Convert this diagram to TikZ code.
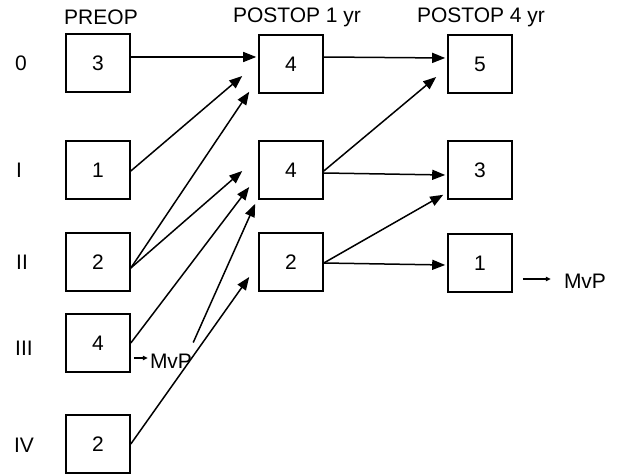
\documentclass[tikz,border=0pt]{standalone}
\usepackage{fontspec}
\setmainfont{Liberation Sans}
\usetikzlibrary{arrows.meta}
\begin{document}
\begin{tikzpicture}[x=1pt,y=-1pt,
  every node/.style={font=\fontsize{21}{25}\selectfont, inner sep=0pt},
  cell/.style={draw, line width=1.6pt, minimum width=64pt, minimum height=58pt},
  link/.style={line width=1.5pt, -{Triangle[length=13pt,width=10pt]}},
  small/.style={line width=1.3pt, -{Triangle[length=5pt,width=4.5pt]}}]
\useasboundingbox (0,0) rectangle (619,476);
% headers
\node (h1) at (101,17) {PREOP};
\node (h2) at (297,17) {POSTOP 1 yr};
\node (h3) at (481,17) {POSTOP 4 yr};
% row labels
\node (r0) at (21,63) {0};
\node (r1) at (19,170) {I};
\node (r2) at (22,262) {II};
\node (r3) at (24,348) {III};
\node (r4) at (24,445) {IV};
% boxes
\node[cell] (P0) at (98,63) {3};
\node[cell] (P1) at (98,170) {1};
\node[cell] (P2) at (98,262) {2};
\node[cell] (P3) at (98,343) {4};
\node[cell] (P4) at (98,444) {2};
\node[cell] (Q0) at (291,64) {4};
\node[cell] (Q1) at (291,170) {4};
\node[cell] (Q2) at (291,262) {2};
\node[cell] (R0) at (480,64) {5};
\node[cell] (R1) at (480,170) {3};
\node[cell] (R2) at (480,263) {1};
% MvP labels
\node (mvp1) at (171,361) {MvP};
\node (mvp2) at (585,281) {MvP};
% connectors column 1 -> 2
\draw[link] ([yshift=6pt]P0.east) -- ([xshift=-2pt,yshift=7pt]Q0.west);
\draw[link] ([yshift=-1pt]P1.east) -- ([xshift=-16pt,yshift=-12pt]Q0.west);
\draw[link] ([yshift=-6pt]P2.east) -- ([xshift=-9pt,yshift=2pt]Q0.south west);
\draw[link] ([yshift=-6pt]P2.east) -- ([xshift=-16pt,yshift=-1pt]Q1.west);
\draw[link] (P3.east) -- ([xshift=-9pt,yshift=-17pt]Q1.west);
\draw[link] ([xshift=1pt,yshift=11pt]mvp1.north east) -- ([xshift=-3pt,yshift=-4pt]Q1.south west);
\draw[link] (P4.east) -- ([xshift=-9pt,yshift=-15pt]Q2.west);
% connectors column 2 -> 3
\draw[link] ([yshift=7pt]Q0.east) -- ([xshift=-2pt,yshift=6pt]R0.west);
\draw[link] ([yshift=-1pt]Q1.east) -- ([xshift=-11pt,yshift=-13pt]R0.west);
\draw[link] ([yshift=-3pt]Q1.east) -- ([xshift=-2pt,yshift=-5pt]R1.west);
\draw[link] ([yshift=-1pt]Q2.east) -- ([xshift=-4pt,yshift=5pt]R1.south west);
\draw[link] ([yshift=-1pt]Q2.east) -- ([xshift=-2pt,yshift=-2pt]R2.west);
% MvP arrows
\draw[small] ([xshift=3pt,yshift=-15pt]P3.east) -- ([xshift=-2pt,yshift=3pt]mvp1.west);
\draw[small] ([xshift=10pt,yshift=-16pt]R2.east) -- ([xshift=-13pt,yshift=2pt]mvp2.west);
\end{tikzpicture}
\end{document}
